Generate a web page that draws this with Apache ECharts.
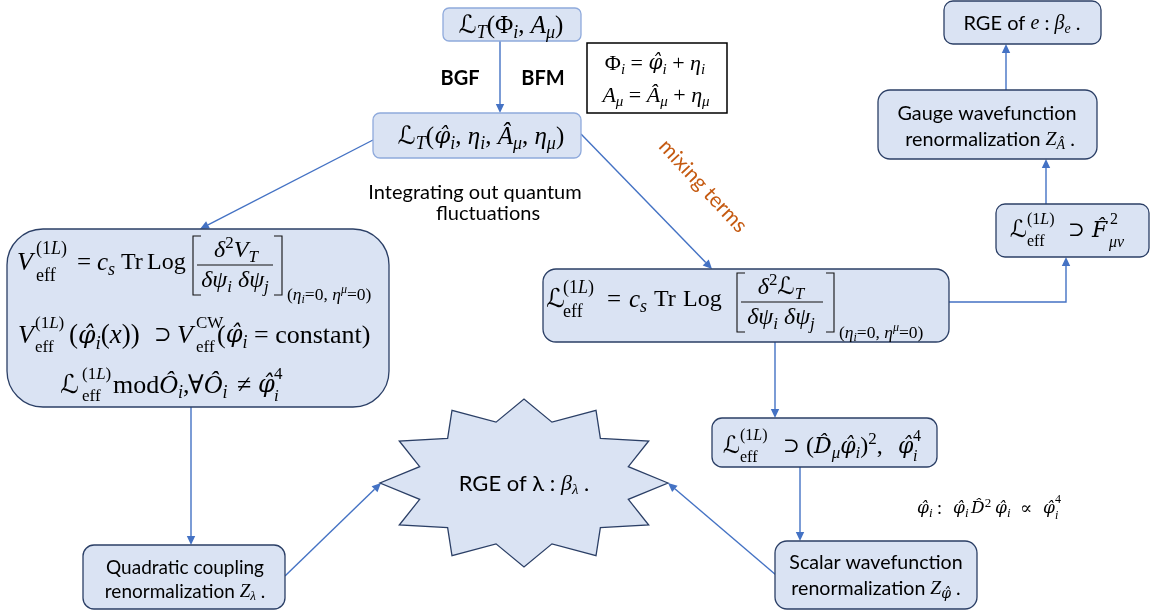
<!DOCTYPE html>
<html><head><meta charset="utf-8">
<script src="https://cdn.jsdelivr.net/npm/echarts@6/dist/echarts.min.js"></script>
<style>html,body{margin:0;padding:0;background:#fff}#c{width:1153px;height:614px}</style>
</head><body><div id="c"></div>
<script>
// ---- diagram content ----
const boxNames = ['top','bg','eqs','left','mid','rgeE','gauge','F2','D2','scalar','quad'];
const boxRects = [[443,8,581,41],[373,113,581,158],[587,43,727,113],[7,229,389,407],[543,269,949,342],
  [944,1,1101,44],[878,90,1097,159],[996,204,1149,257],[712,418,937,467],[775,541,977,609],[83,545,285,609]];
const boxRadius = [6,7,0,36,13,9,12,9,10,12,11];
const boxKind = ['light','light','frame','dark','dark','dark','dark','dark','dark','dark','dark'];

const arrowRoutes = [
  [[500,41],[500,113]],
  [[373,140],[200,229]],
  [[581,134],[712,269]],
  [[191,407],[191,545]],
  [[285,576],[381,483]],
  [[776,575],[668,483]],
  [[775,342],[775,418]],
  [[800,467],[800,541]],
  [[949,302],[1066,302],[1066,257]],
  [[1046,204],[1046,159]],
  [[1006,90],[1006,44]]
];

const ruleLines = [
  [[201,236],[193,236],[193,295],[201,295]],
  [[274,236],[282,236],[282,295],[274,295]],
  [[197,265],[273,265]],
  [[745,273],[737,273],[737,332],[745,332]],
  [[826,273],[834,273],[834,332],[826,332]],
  [[741,302],[823,302]]
];

const starCenter = [[524,483]];
const starRadii = [144,84];

// [x, y, markup, size, align, color, rotationDeg]
const mathPieces = [
  [511,26,'c:ℒ~b:T~r:(Φ~b:i~r:, ~i:A~b:μ~r:)',25,'c'],
  [481,137,'c:ℒ~b:T~r:(~h:φ̂~b:i~r:, ~i:η~b:i~r:, ~i:Â~b:μ~r:, ~i:η~b:μ~r:)',25,'c'],
  [655,64,'r:Φ~b:i~r: = ~h:φ̂~b:i~r: + ~i:η~b:i',22,'c'],
  [656,96,'i:A~b:μ~r: = ~i:Â~b:μ~r: + ~i:η~b:μ',22,'c'],
  // left box line 1
  [17,263,'i:V',26,'l'],[36,249,'r:(1~i:L~r:)',18,'l'],[36,276,'r:eff',18,'l'],
  [77,263,'r:=',25,'l'],[97,263,'i:c~b:s',25,'l'],[121,263,'r:Tr',24,'l'],[147,263,'r:Log',24,'l'],
  [236,251,'i:δ~p:2~i:V~b:T',24,'c'],[235,281,'i:δψ~b:i~r: ~i:δψ~b:j',24,'c'],
  [287,295,'r:(~i:η~b:i~r:=0, ~i:η~P:μ~r:=0)',17.5,'l'],
  // left box line 2
  [18,336,'i:V',26,'l'],[35,324,'r:(1~i:L~r:)',17,'l'],[35,348,'r:eff',17,'l'],
  [69,336,'r:(~h:φ̂~b:i~r:(~i:x~r:))',27,'l'],[154,336,'o:⊃',26,'l'],
  [177,336,'i:V',26,'l'],[196,324,'r:CW',17,'l'],[196,348,'r:eff',17,'l'],
  [217,336,'r:(~h:φ̂~b:i~r: = constant)',26,'l'],
  // left box line 3
  [60,386,'c:ℒ',26,'l'],[82,375,'r:(1~i:L~r:)',17,'l'],[82,397,'r:eff',17,'l'],
  [113,386,'r:mod~i:Ô~b:i~r:,',26,'l'],[188,386,'r:∀~i:Ô~b:i',26,'l'],[237,386,'r:≠',26,'l'],
  [258,386,'h:φ̂',26,'l'],[274,375,'r:4',17,'l'],[274,397,'i:i',17,'l'],
  // middle box
  [546,300,'c:ℒ',26,'l'],[563,288,'r:(1~i:L~r:)',18,'l'],[563,312,'r:eff',18,'l'],
  [607,300,'r:=',25,'l'],[629,300,'i:c~b:s',25,'l'],[654,300,'r:Tr',24,'l'],[683,300,'r:Log',24,'l'],
  [781,288,'i:δ~p:2~c:ℒ~b:T',24,'c'],[781,318,'i:δψ~b:i~r: ~i:δψ~b:j',24,'c'],
  [839,333,'r:(~i:η~b:i~r:=0, ~i:η~P:μ~r:=0)',17.5,'l'],
  // F^2 box
  [1010,231,'c:ℒ',24,'l'],[1027,220,'r:(1~i:L~r:)',16,'l'],[1027,242,'r:eff',16,'l'],
  [1068,231,'o:⊃',24,'l'],[1092,231,'h:F̂',24,'l'],[1110,220,'r:2',16,'l'],[1109,243,'i:μν',16,'l'],
  // D box
  [723,447,'c:ℒ',24,'l'],[740,436,'r:(1~i:L~r:)',16,'l'],[740,458,'r:eff',16,'l'],
  [783,447,'o:⊃',24,'l'],[806,447,'r:(~h:D̂~b:μ~h:φ̂~b:i~r:)~p:2~r:,',24,'l'],
  [898,447,'h:φ̂',24,'l'],[913,437,'r:4',16,'l'],[913,457,'i:i',16,'l'],
  // side formula
  [917,509,'h:φ̂~b:i~r: :',18,'l'],[953,509,'h:φ̂~b:i',18,'l'],[971,509,'h:D̂~p:2',18,'l'],
  [995,509,'h:φ̂~b:i',18,'l'],[1020,509,'r:∝',18,'l'],
  [1043,509,'h:φ̂',18,'l'],[1055,500,'r:4',12,'l'],[1055,516,'i:i',12,'l']
];

const wordPieces = [
  [460,79,'T:BGF',20,'c'],[543,79,'T:BFM',20,'c'],
  [475,193,'t:Integrating out quantum',20,'c'],[488,214,'t:fluctuations',20,'c'],
  [703,186,'t:mixing terms',21,'c','#C55A11',-47],
  [1022,24,'t:RGE of ~i:e~t: : ~i:β~b:e~t: .',20,'c'],
  [987,114,'t:Gauge wavefunction',19.8,'c'],
  [990,140,'t:renormalization ~i:Z~b:Â~t: .',19.8,'c'],
  [876,563,'t:Scalar wavefunction',19.6,'c'],
  [876,589,'t:renormalization ~i:Z~H:φ̂~t: .',19.6,'c'],
  [185,568,'t:Quadratic coupling',19,'c'],
  [185,592,'t:renormalization ~i:Z~b:λ~t: .',19,'c'],
  [524,484,'t:RGE of λ : ~i:β~b:λ~t: .',22,'c']
];

// ---- styling ----
const SERIF = "'Liberation Serif','DejaVu Serif',serif";
const HATF = "'DejaVu Serif','Liberation Serif',serif";
const CALF = "'DejaVu Sans','DejaVu Serif',serif";
const OPF = "'DejaVu Serif','DejaVu Sans',serif";
const SANS = "Lato,'Liberation Sans',sans-serif";
const FILL = '#DAE3F3', DARK = '#2B3F66', LIGHT = '#8FAADC', ARROW = '#4472C4';

function richStyles(s, color) {
  const sm = Math.round(s * 0.7);
  const base = {fill: color, verticalAlign: 'middle'};
  const subPad = [Math.round(s * 0.55), 0, 0, 0];
  const supPad = [0, 0, Math.round(s * 0.6), 0];
  return {
    i: Object.assign({fontFamily: SERIF, fontStyle: 'italic', fontSize: s}, base),
    h: Object.assign({fontFamily: HATF, fontStyle: 'italic', fontSize: Math.round(s * 0.92)}, base),
    c: Object.assign({fontFamily: CALF, fontSize: s}, base),
    o: Object.assign({fontFamily: OPF, fontSize: Math.round(s * 0.82)}, base),
    r: Object.assign({fontFamily: SERIF, fontSize: s}, base),
    b: Object.assign({fontFamily: SERIF, fontStyle: 'italic', fontSize: sm, padding: subPad}, base),
    H: Object.assign({fontFamily: HATF, fontStyle: 'italic', fontSize: sm, padding: subPad}, base),
    B: Object.assign({fontFamily: SERIF, fontSize: sm, padding: subPad}, base),
    p: Object.assign({fontFamily: SERIF, fontSize: sm, padding: supPad}, base),
    P: Object.assign({fontFamily: SERIF, fontStyle: 'italic', fontSize: sm, padding: supPad}, base),
    t: Object.assign({fontFamily: SANS, fontSize: s}, base),
    T: Object.assign({fontFamily: SANS, fontSize: s, fontWeight: 'bold'}, base)
  };
}
function toRich(markup) {
  return markup.split('~').map(seg => '{' + seg[0] + '|' + seg.slice(2) + '}').join('');
}
const allPieces = mathPieces.concat(wordPieces);

const chart = echarts.init(document.getElementById('c'), null, {renderer: 'canvas'});
chart.setOption({
  animation: false,
  backgroundColor: '#ffffff',
  grid: {left: 0, right: 0, top: 0, bottom: 0},
  xAxis: {type: 'value', min: 0, max: 1153, show: false},
  yAxis: {type: 'value', min: 0, max: 614, inverse: true, show: false},
  series: [
    { // arrows
      type: 'custom', clip: false, z: 1,
      data: arrowRoutes.map(r => r[r.length - 1]),
      renderItem: function (params, api) {
        const pts = arrowRoutes[params.dataIndex].map(p => api.coord(p));
        const n = pts.length, a = pts[n - 2], b = pts[n - 1];
        const dx = b[0] - a[0], dy = b[1] - a[1], L = Math.hypot(dx, dy), ux = dx / L, uy = dy / L;
        const hl = 9, hw = 4.2;
        const base = [b[0] - ux * hl, b[1] - uy * hl];
        return {type: 'group', children: [
          {type: 'polyline', shape: {points: pts.slice(0, n - 1).concat([base])}, style: {stroke: ARROW, lineWidth: 1.4, fill: null}},
          {type: 'polygon', shape: {points: [b, [base[0] - uy * hw, base[1] + ux * hw], [base[0] + uy * hw, base[1] - ux * hw]]}, style: {fill: ARROW}}
        ]};
      }
    },
    { // boxes
      type: 'custom', clip: false, z: 2,
      data: boxRects,
      renderItem: function (params, api) {
        const i = params.dataIndex;
        const p0 = api.coord([api.value(0), api.value(1)]);
        const p1 = api.coord([api.value(2), api.value(3)]);
        const kind = boxKind[i];
        return {type: 'rect',
          shape: {x: p0[0], y: p0[1], width: p1[0] - p0[0], height: p1[1] - p0[1], r: boxRadius[i]},
          style: {fill: kind === 'frame' ? '#ffffff' : FILL,
                  stroke: kind === 'frame' ? '#000000' : (kind === 'light' ? LIGHT : DARK),
                  lineWidth: kind === 'frame' ? 1.5 : 1.3}};
      }
    },
    { // star
      type: 'custom', clip: false, z: 2,
      data: starCenter,
      renderItem: function (params, api) {
        const cx = api.value(0), cy = api.value(1);
        const pts = [];
        for (let k = 0; k < 24; k++) {
          const ang = k * Math.PI / 12;
          const f = k % 2 === 0 ? 1 : 0.75;
          pts.push(api.coord([cx + starRadii[0] * f * Math.cos(ang), cy - starRadii[1] * f * Math.sin(ang)]));
        }
        return {type: 'polygon', shape: {points: pts}, style: {fill: FILL, stroke: DARK, lineWidth: 1.3}};
      }
    },
    { // fraction bars and brackets
      type: 'custom', clip: false, z: 3,
      data: ruleLines.map(r => r[0]),
      renderItem: function (params, api) {
        const pts = ruleLines[params.dataIndex].map(p => api.coord(p));
        return {type: 'polyline', shape: {points: pts}, style: {stroke: '#111', lineWidth: 1.1, fill: null}};
      }
    },
    { // text
      type: 'custom', clip: false, z: 4,
      data: allPieces.map(p => [p[0], p[1]]),
      renderItem: function (params, api) {
        const p = allPieces[params.dataIndex];
        const c = api.coord([api.value(0), api.value(1)]);
        const color = p[5] || '#000000';
        return {type: 'text', x: c[0], y: c[1], rotation: (p[6] || 0) * Math.PI / 180,
          style: {text: toRich(p[2]), rich: richStyles(p[3], color), fill: color,
                  fontSize: p[3], fontFamily: SERIF,
                  align: p[4] === 'c' ? 'center' : 'left', verticalAlign: 'middle'}};
      }
    }
  ]
});
</script></body></html>
